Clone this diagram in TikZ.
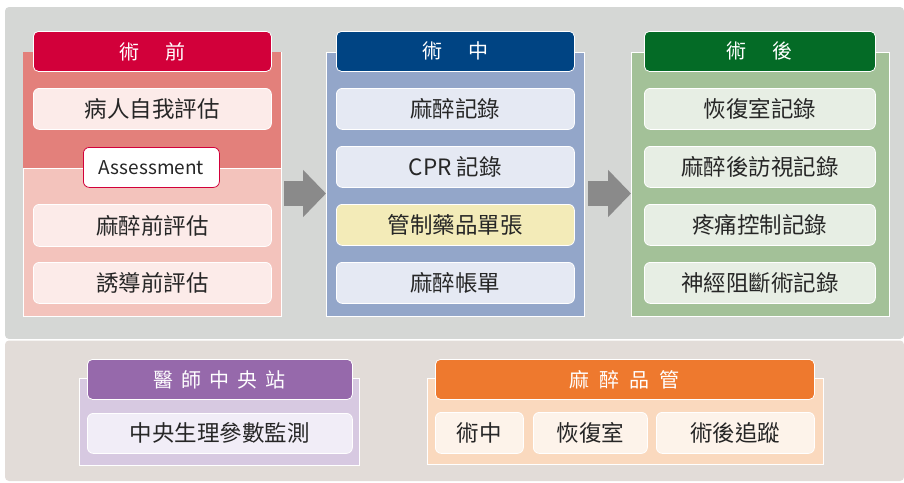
\documentclass[tikz,border=0pt]{standalone}
\usepackage{fontspec}
\setmainfont{Noto Sans CJK TC}
\usetikzlibrary{arrows.meta}
\definecolor{bgtop}{HTML}{D5D7D5}
\definecolor{bgbot}{HTML}{E2DCD8}
\definecolor{crim}{HTML}{D2003A}
\definecolor{redA}{HTML}{E3807B}
\definecolor{redB}{HTML}{F3C3BC}
\definecolor{redI}{HTML}{FCEBE9}
\definecolor{blueH}{HTML}{004483}
\definecolor{blueO}{HTML}{93A6C9}
\definecolor{blueI}{HTML}{E5E9F3}
\definecolor{yelI}{HTML}{F3EBB8}
\definecolor{grnH}{HTML}{046B26}
\definecolor{grnO}{HTML}{A3C198}
\definecolor{grnI}{HTML}{E7EEE4}
\definecolor{purH}{HTML}{9669AB}
\definecolor{purO}{HTML}{D7C9E1}
\definecolor{purI}{HTML}{F1EDF7}
\definecolor{orgH}{HTML}{EE792E}
\definecolor{orgO}{HTML}{FAD9BE}
\definecolor{orgI}{HTML}{FDF3EA}
\definecolor{arr}{HTML}{8A8A8A}
\begin{document}
\begin{tikzpicture}[x=1pt,y=-1pt,
  outerbox/.style={draw=white,line width=0.8pt,anchor=north west,inner sep=0pt},
  headbox/.style={draw=white,line width=0.8pt,rounded corners=5pt,anchor=north west,inner sep=0pt,text=white,font=\fontsize{20}{24}\selectfont},
  itembox/.style={draw=white,line width=0.8pt,rounded corners=6pt,anchor=north west,inner sep=0pt,text=black!85,font=\fontsize{22.5}{26}\selectfont},
  blockarrow/.style={draw=arr,line width=25pt,-{Triangle[length=23pt,width=46pt]}}
]
\useasboundingbox (0,0) rectangle (904,482);
% backgrounds
\fill[bgtop,rounded corners=4pt] (5,7) rectangle (904,339);
\fill[bgbot,rounded corners=4pt] (5,340.5) rectangle (904,481);
\draw[white,line width=1pt] (5,339.7) -- (904,339.7);

% ---- pre-op column
\node[outerbox,fill=redB,minimum width=258pt,minimum height=264pt] (preO) at (23,52) {};
\fill[redA] (23.4,52.4) rectangle (280.6,168);
\draw[white,line width=0.8pt] (23,168) -- (281,168);
\node[headbox,fill=crim,minimum width=238pt,minimum height=40pt] (preH) at (33,31) {術\hspace{26pt}前};
\node[itembox,fill=redI,minimum width=238pt,minimum height=41pt] (pre1) at (33,88) {病人自我評估};
\node[draw=crim,line width=0.8pt,fill=white,rounded corners=6pt,anchor=north west,inner sep=0pt,minimum width=136pt,minimum height=40pt,text=black!85,font=\fontsize{19}{22}\selectfont] (assess) at (83,147) {Assessment};
\node[itembox,fill=redI,minimum width=238pt,minimum height=42pt] (pre2) at (33,204) {麻醉前評估};
\node[itembox,fill=redI,minimum width=238pt,minimum height=41pt] (pre3) at (33,262) {誘導前評估};

% ---- intra-op column
\node[outerbox,fill=blueO,minimum width=258pt,minimum height=264pt] (midO) at (326,52) {};
\node[headbox,fill=blueH,minimum width=238pt,minimum height=40pt] (midH) at (336,31) {術\hspace{26pt}中};
\node[itembox,fill=blueI,minimum width=238pt,minimum height=41pt] (mid1) at (336,88) {麻醉記錄};
\node[itembox,fill=blueI,minimum width=238pt,minimum height=41pt] (mid2) at (336,146) {CPR 記錄};
\node[itembox,fill=yelI,minimum width=238pt,minimum height=41pt] (mid3) at (336,204) {管制藥品單張};
\node[itembox,fill=blueI,minimum width=238pt,minimum height=41pt] (mid4) at (336,262) {麻醉帳單};

% ---- post-op column
\node[outerbox,fill=grnO,minimum width=258pt,minimum height=264pt] (postO) at (631,52) {};
\node[headbox,fill=grnH,minimum width=231pt,minimum height=40pt] (postH) at (644,31) {術\hspace{26pt}後};
\node[itembox,fill=grnI,minimum width=231pt,minimum height=41pt] (post1) at (644,88) {恢復室記錄};
\node[itembox,fill=grnI,minimum width=231pt,minimum height=41pt] (post2) at (644,146) {麻醉後訪視記錄};
\node[itembox,fill=grnI,minimum width=231pt,minimum height=41pt] (post3) at (644,204) {疼痛控制記錄};
\node[itembox,fill=grnI,minimum width=231pt,minimum height=41pt] (post4) at (644,262) {神經阻斷術記錄};

% ---- arrows
\coordinate (a1) at (284,193.5);
\coordinate (a2) at (588,193.5);
\draw[blockarrow] (a1) -- (midO.west |- a1);
\draw[blockarrow] (a2) -- (postO.west |- a2);

% ---- central station
\node[outerbox,fill=purO,minimum width=280pt,minimum height=87pt] (stO) at (79,378) {};
\node[headbox,fill=purH,minimum width=265pt,minimum height=40pt] (stH) at (87,359) {醫\hspace{8pt}師\hspace{8pt}中\hspace{8pt}央\hspace{8pt}站};
\node[itembox,fill=purI,minimum width=265pt,minimum height=40pt] (st1) at (87,413) {中央生理參數監測};

% ---- QA
\node[outerbox,fill=orgO,minimum width=396pt,minimum height=86pt] (qaO) at (427,378) {};
\node[headbox,fill=orgH,minimum width=379pt,minimum height=40pt] (qaH) at (435,359) {麻\hspace{10pt}醉\hspace{10pt}品\hspace{10pt}管};
\node[itembox,fill=orgI,minimum width=88pt,minimum height=41pt] (qa1) at (435,412) {術中};
\node[itembox,fill=orgI,minimum width=114pt,minimum height=41pt] (qa2) at (533,412) {恢復室};
\node[itembox,fill=orgI,minimum width=158pt,minimum height=41pt] (qa3) at (656,412) {術後追蹤};
\end{tikzpicture}
\end{document}
